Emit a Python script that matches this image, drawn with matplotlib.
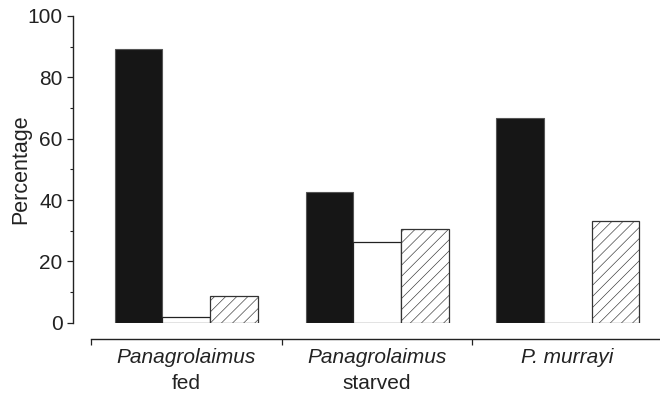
import matplotlib
matplotlib.use("Agg")
import matplotlib.pyplot as plt
import numpy as np
from matplotlib.ticker import MultipleLocator, FixedLocator

plt.rcParams.update({"font.family": "Liberation Sans", "font.size": 15,
                     "hatch.linewidth": 0.45, "hatch.color": "#666666"})

species = ["Panagrolaimus", "Panagrolaimus", "P. murrayi"]
condition = ["fed", "starved", ""]
black = [89.2, 42.6, 66.8]
white = [2.0, 26.3, 0.0]
hatched = [8.8, 30.5, 33.2]

x = np.arange(len(species))
w = 0.25
INK = "#222222"

fig = plt.figure(figsize=(6.6, 3.96), dpi=100)
ax = fig.add_axes([91 / 660, (396 - 322.7) / 396, 572 / 660, 306.7 / 396])

ax.bar(x - w, black, w, color="#161616", edgecolor="#555555", lw=0.8)
ax.bar(x, white, w, color="white", edgecolor=INK, lw=0.9)
ax.bar(x + w, hatched, w, color="white", edgecolor="#333333", lw=0.9, hatch="///")

ax.set_xlim(-0.5, 2.5)
ax.set_ylim(0, 100)
for s in ("top", "right"):
    ax.spines[s].set_visible(False)
ax.spines["left"].set_position(("outward", 13))
ax.spines["bottom"].set_position(("outward", 12))
for s in ("left", "bottom"):
    ax.spines[s].set_color(INK)
    ax.spines[s].set_linewidth(1.0)

ax.yaxis.set_major_locator(MultipleLocator(20))
ax.yaxis.set_minor_locator(MultipleLocator(10))
ax.tick_params(axis="y", which="major", length=4.5, width=0.9, color=INK, pad=3,
               labelcolor=INK)
ax.tick_params(axis="y", which="minor", length=2, width=0.8, color=INK)
ax.set_ylabel("Percentage", color=INK, labelpad=-3, fontsize=15.5)

ax.xaxis.set_major_locator(FixedLocator([-0.5, 0.5, 1.5, 2.5]))
ax.xaxis.set_minor_locator(FixedLocator(x))
ax.tick_params(axis="x", which="major", length=4, width=0.9, color=INK, labelbottom=False)
ax.tick_params(axis="x", which="minor", length=0, pad=6, labelcolor=INK)
ax.set_xticklabels(species, minor=True, fontstyle="italic")

# second line of each category label, upright
for xi, c in zip(x, condition):
    ax.annotate(c, xy=(xi, 0), xycoords=("data", "axes fraction"),
                xytext=(0, -37), textcoords="offset points",
                ha="center", va="top", color=INK)

fig.savefig("out.png", dpi=100, facecolor="white")
